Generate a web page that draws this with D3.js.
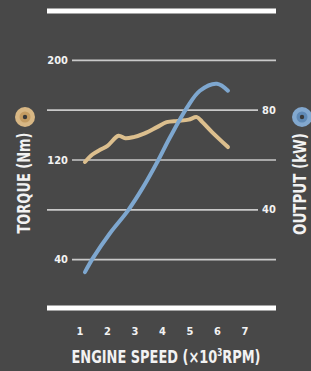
<!DOCTYPE html>
<html>
<head>
<meta charset="utf-8">
<script src="https://cdn.jsdelivr.net/npm/d3@7"></script>
<style>
  html, body { margin: 0; padding: 0; background: #484848; }
  svg { display: block; }
  text { font-family: "DejaVu Sans Condensed", "Liberation Sans Narrow", sans-serif; font-weight: bold; fill: #f2f2f2; }
</style>
</head>
<body>
<script>
var width = 311, height = 371;

// engine speed (x1000 rpm) vs torque (Nm)
var torqueRpm = [1.18, 1.45, 1.75, 2.0, 2.4, 2.65, 2.95, 3.35, 3.8, 4.15, 4.55, 4.95, 5.25, 5.45, 5.8, 6.38];
var torqueNm  = [118, 124, 128, 131, 139, 137, 138, 141, 146, 150, 151, 152, 154, 150, 142, 130];

// engine speed vs output (kW)
var powerRpm = [1.18, 1.47, 2.09, 2.75, 3.29, 3.84, 4.27, 4.89, 5.36, 5.98, 6.38];
var powerKw  = [14.8, 20.4, 30.4, 39.6, 48.8, 59.6, 68.8, 80.8, 87.6, 90.4, 87.6];

var xTicks = [1, 2, 3, 4, 5, 6, 7];
var torqueTicks = [40, 120, 200];
var powerTicks = [40, 80];

var svg = d3.select("body")
    .append("svg")
    .attr("width", width)
    .attr("height", height);

var x = d3.scaleLinear().domain([1, 7]).range([80, 245]);
var yT = d3.scaleLinear().domain([0, 240]).range([309, 10]);
var yP = d3.scaleLinear().domain([0, 120]).range([309, 10]);

// torque grid, labels on the left
var leftAxis = svg.append("g")
    .attr("transform", "translate(72,0)")
    .call(d3.axisLeft(yT).tickValues(torqueTicks).tickSize(-204).tickPadding(4));
// power grid, labels on the right
var rightAxis = svg.append("g")
    .attr("transform", "translate(258,0)")
    .call(d3.axisRight(yP).tickValues(powerTicks).tickSize(-211).tickPadding(4));

[leftAxis, rightAxis].forEach(function (g) {
    g.select(".domain").remove();
    g.selectAll(".tick line").attr("stroke", "#c9c9c9").attr("stroke-width", 1.6);
    g.selectAll(".tick text").attr("font-size", 11).attr("fill", "#f2f2f2")
        .attr("font-family", "\"DejaVu Sans Condensed\", sans-serif");
});

// thick frame lines
svg.append("line").attr("x1", 47).attr("x2", 276).attr("y1", 11).attr("y2", 11)
    .attr("stroke", "#ffffff").attr("stroke-width", 5);
svg.append("line").attr("x1", 47).attr("x2", 276).attr("y1", 308).attr("y2", 308)
    .attr("stroke", "#ffffff").attr("stroke-width", 5);

var line = function (ys) {
    return d3.line().x(function (d) { return x(d[0]); }).y(function (d) { return ys(d[1]); })
        .curve(d3.curveCatmullRom.alpha(0.5));
};

svg.append("path")
    .datum(d3.zip(torqueRpm, torqueNm))
    .attr("d", line(yT))
    .attr("fill", "none").attr("stroke", "#dcbf8e").attr("stroke-width", 4)
    .attr("stroke-linecap", "round").attr("stroke-linejoin", "round");

svg.append("path")
    .datum(d3.zip(powerRpm, powerKw))
    .attr("d", line(yP))
    .attr("fill", "none").attr("stroke", "#7ea7cf").attr("stroke-width", 4)
    .attr("stroke-linecap", "round").attr("stroke-linejoin", "round");

// x tick labels
svg.append("g").selectAll("text")
    .data(xTicks)
    .enter().append("text")
    .attr("x", function (d) { return x(d); })
    .attr("y", 335)
    .attr("text-anchor", "middle")
    .attr("font-size", 11)
    .text(function (d) { return d; });

var title = svg.append("text")
    .attr("transform", "translate(166,363) scale(0.8,1)")
    .attr("text-anchor", "middle")
    .attr("font-size", 18);
title.append("tspan").text("ENGINE SPEED (×10");
title.append("tspan").attr("font-size", 10).attr("dy", -7).text("3");
title.append("tspan").attr("dy", 7).text("RPM)");

// axis titles
svg.append("text")
    .attr("transform", "translate(30,183) rotate(-90)")
    .attr("text-anchor", "middle").attr("font-size", 17)
    .attr("textLength", 101).attr("lengthAdjust", "spacingAndGlyphs")
    .text("TORQUE (Nm)");
svg.append("text")
    .attr("transform", "translate(306,184) rotate(-90)")
    .attr("text-anchor", "middle").attr("font-size", 17)
    .attr("textLength", 102).attr("lengthAdjust", "spacingAndGlyphs")
    .text("OUTPUT (kW)");

// legend badges
function badge(cx, cy, color, ring) {
    svg.append("circle").attr("cx", cx).attr("cy", cy).attr("r", 10).attr("fill", color);
    svg.append("circle").attr("cx", cx).attr("cy", cy).attr("r", 5.5).attr("fill", ring);
    svg.append("circle").attr("cx", cx).attr("cy", cy).attr("r", 2.2).attr("fill", "#3a3a3a");
}
badge(25, 117, "#d8b784", "#c49c62");
badge(302, 117, "#82a8cf", "#5f89b5");
</script>
</body>
</html>
